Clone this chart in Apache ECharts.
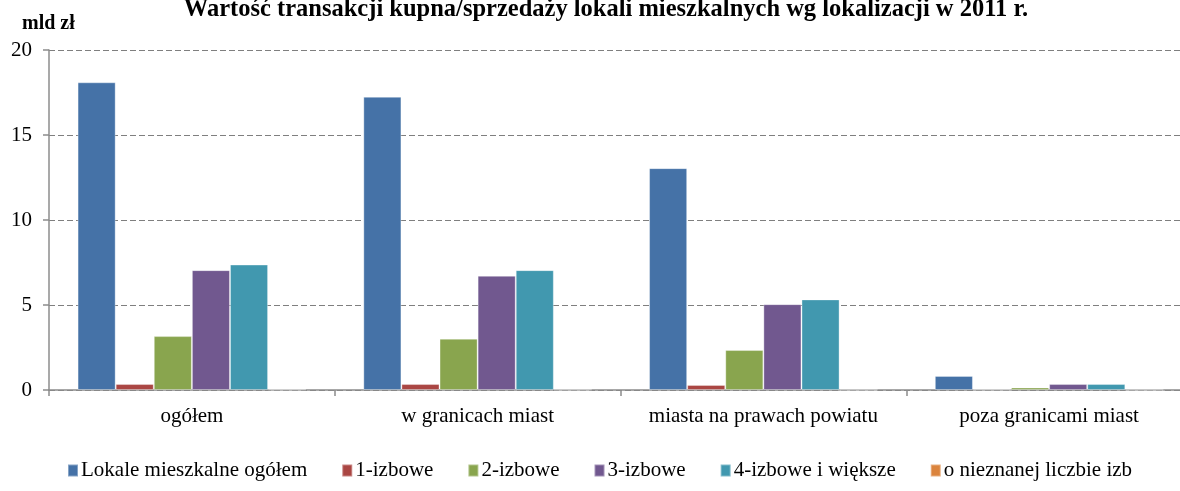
<!DOCTYPE html>
<html>
<head>
<meta charset="utf-8">
<script src="https://cdn.jsdelivr.net/npm/echarts@6/dist/echarts.min.js"></script>
<style>
  html, body { margin: 0; padding: 0; background: #fff; overflow: hidden; }
  #chart { width: 1192px; height: 491px; }
</style>
</head>
<body>
<div id="chart"></div>
<script>
const categories = ['ogółem', 'w granicach miast', 'miasta na prawach powiatu', 'poza granicami miast']
const seriesNames = ['Lokale mieszkalne ogółem', '1-izbowe', '2-izbowe', '3-izbowe', '4-izbowe i większe', 'o nieznanej liczbie izb']
const ogolem = [18.1, 17.25, 13.05, 0.83]
const izb1 = [0.35, 0.35, 0.3, 0.03]
const izb2 = [3.17, 3.02, 2.35, 0.15]
const izb3 = [7.05, 6.72, 5.05, 0.35]
const izb4 = [7.38, 7.05, 5.33, 0.35]
const nieznane = [0.03, 0.02, 0.01, 0.01]
const colors = ['#4572A7', '#AA4643', '#89A54E', '#71588F', '#4198AF', '#DB843D']

const font = '"Liberation Serif", "Times New Roman", serif'
// chart is a bit wider than the window: the plot area runs past the right edge
const chart = echarts.init(document.getElementById('chart'))

const allData = [ogolem, izb1, izb2, izb3, izb4, nieznane]

chart.setOption({
  animation: false,
  color: colors,
  title: {
    text: 'Wartość transakcji kupna/sprzedaży lokali mieszkalnych wg lokalizacji w 2011 r.',
    left: 606,
    textAlign: 'center',
    top: -3,
    padding: 0,
    textStyle: { fontFamily: font, fontSize: 24.5, fontWeight: 'bold', color: '#000' }
  },
  graphic: [{
    type: 'text',
    left: 22,
    top: 14,
    style: { text: 'mld zł', font: 'bold 20px ' + font, fill: '#000' }
  }],
  legend: {
    bottom: 5,
    left: 62,
    itemWidth: 10,
    itemHeight: 12,
    itemGap: 34,
    icon: 'rect',
    textStyle: { fontFamily: font, fontSize: 21, color: '#000', padding: [0, 0, 0, -2] },
    data: seriesNames
  },
  grid: { left: 49, right: 0, top: 50, bottom: 101, containLabel: false },
  xAxis: {
    type: 'category',
    data: categories,
    axisLine: { lineStyle: { color: '#8c8c8c', width: 1.5 } },
    axisTick: { show: true, length: 6, lineStyle: { color: '#8c8c8c', width: 1.5 } },
    axisLabel: { fontFamily: font, fontSize: 21, color: '#000', margin: 16, interval: 0 }
  },
  yAxis: {
    type: 'value',
    min: 0,
    max: 20,
    interval: 5,
    axisLine: { show: true, lineStyle: { color: '#8c8c8c', width: 1.5 } },
    axisTick: { show: true, length: 6, lineStyle: { color: '#8c8c8c', width: 1.5 } },
    axisLabel: { fontFamily: font, fontSize: 21, color: '#000', margin: 17 },
    splitLine: { lineStyle: { color: '#7f7f7f', type: [6, 3], width: 1 } }
  },
  series: allData.map((d, i) => ({
    name: seriesNames[i],
    type: 'bar',
    data: d,
    barGap: '0%',
    barCategoryGap: '20%',
    itemStyle: { borderColor: 'rgba(255,255,255,0.35)', borderWidth: 1 }
  }))
})
</script>
</body>
</html>
